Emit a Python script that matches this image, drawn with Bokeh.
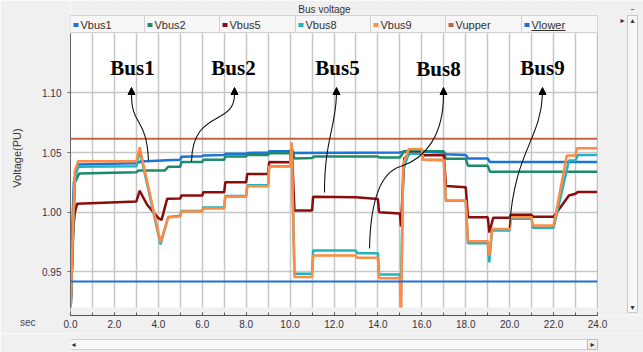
from bokeh.plotting import figure
from bokeh.layouts import column
from bokeh.models import (Range1d, FixedTicker, PrintfTickFormatter, LinearAxis,
                          Arrow, NormalHead)
from bokeh.core.properties import value
from bokeh.embed import file_html
from bokeh.resources import INLINE

# ------------------------------------------------------------------ data
# Bus voltage traces as (time [s], voltage [pu]) breakpoints
vbus1 = [(0.0, 0.915), (0.05, 0.97), (0.15, 1.025), (0.35, 1.040), (3.0, 1.041),
         (3.2, 1.0425), (4.4, 1.0435), (5.0, 1.044), (5.05, 1.0465), (6.0, 1.0468),
         (6.05, 1.0475), (7.0, 1.048), (7.05, 1.049), (8.0, 1.049), (8.05, 1.0497),
         (9.0, 1.0498), (9.05, 1.051), (10.0, 1.051), (10.2, 1.0497), (15.0, 1.050),
         (15.2, 1.051), (17.0, 1.050), (17.1, 1.0485), (18.0, 1.048), (18.1, 1.045),
         (19.0, 1.045), (19.1, 1.042), (24.0, 1.042)]

vbus2 = [(0.0, 0.915), (0.1, 0.97), (0.2, 1.025), (0.4, 1.0325), (3.0, 1.0335),
         (3.1, 1.035), (4.3, 1.035), (4.45, 1.038), (5.0, 1.038), (5.05, 1.042),
         (6.0, 1.042), (6.05, 1.044), (7.0, 1.044), (7.05, 1.0466), (8.0, 1.0466),
         (8.05, 1.048), (9.0, 1.048), (9.05, 1.0494), (10.0, 1.0494), (10.07, 1.054),
         (10.2, 1.045), (11.0, 1.0455), (11.1, 1.0466), (14.0, 1.0466), (14.1, 1.0458),
         (15.0, 1.0458), (15.2, 1.051), (17.0, 1.051), (17.1, 1.0447), (18.0, 1.0447),
         (18.1, 1.039), (19.0, 1.039), (19.1, 1.034), (24.0, 1.034)]

vbus5 = [(0.0, 0.915), (0.12, 0.985), (0.2, 1.0), (0.3, 1.007), (3.0, 1.009),
         (3.15, 1.018), (3.5, 1.006), (4.0, 0.995), (4.15, 0.9936), (4.4, 1.0112),
         (5.0, 1.0115), (5.05, 1.014), (6.0, 1.014), (6.05, 1.0168), (7.0, 1.0168),
         (7.05, 1.025), (8.0, 1.025), (8.05, 1.032), (9.0, 1.032), (9.05, 1.042),
         (10.0, 1.0419), (10.07, 1.057), (10.2, 1.0014), (11.0, 1.0014), (11.05, 1.013),
         (13.0, 1.0125), (14.0, 1.011), (14.05, 1.000), (15.0, 0.999), (15.05, 0.988),
         (15.2, 1.045), (15.5, 1.050), (16.0, 1.050), (16.05, 1.0477), (17.0, 1.0477),
         (17.1, 1.022), (18.0, 1.021), (18.1, 0.9958), (19.0, 0.9958), (19.08, 0.983),
         (19.25, 0.9953), (20.0, 0.9953), (20.05, 0.9978), (21.0, 0.9978), (21.05, 0.9962),
         (22.0, 0.9962), (22.7, 1.014), (23.0, 1.0155), (23.1, 1.017), (24.0, 1.017)]

vbus8 = [(0.0, 0.915), (0.1, 0.975), (0.2, 1.03), (0.35, 1.038), (3.0, 1.0385),
         (3.15, 1.0517), (4.1, 0.973), (4.45, 0.996), (5.0, 0.997), (5.05, 1.001),
         (6.0, 1.001), (6.05, 1.004), (7.0, 1.004), (7.05, 1.0135), (8.0, 1.0135),
         (8.05, 1.0225), (9.0, 1.0225), (9.05, 1.0385), (10.0, 1.0385), (10.07, 1.058),
         (10.2, 0.9484), (11.0, 0.9484), (11.05, 0.968), (13.0, 0.968), (13.05, 0.9657),
         (14.0, 0.9657), (14.05, 0.9478), (15.0, 0.9478), (15.05, 0.93), (15.15, 1.035),
         (15.4, 1.049), (16.0, 1.049), (16.05, 1.044), (17.0, 1.0435), (17.1, 1.0095),
         (18.0, 1.0095), (18.1, 0.974), (19.0, 0.974), (19.07, 0.958), (19.2, 0.9847),
         (20.0, 0.9847), (20.05, 0.9946), (21.0, 0.9946), (21.05, 0.9869), (22.0, 0.9869),
         (22.7, 1.0433), (23.0, 1.0433), (23.1, 1.048), (24.0, 1.048)]

vbus9 = [(0.0, 0.915), (0.1, 0.98), (0.2, 1.035), (0.35, 1.0427), (3.0, 1.0427),
         (3.15, 1.0545), (4.1, 0.9749), (4.45, 0.9955), (5.0, 0.9965), (5.05, 1.0005),
         (6.0, 1.0005), (6.05, 1.003), (7.0, 1.003), (7.05, 1.013), (8.0, 1.013),
         (8.05, 1.0218), (9.0, 1.0218), (9.05, 1.0383), (10.0, 1.0383), (10.07, 1.0586),
         (10.2, 0.9456), (11.0, 0.9456), (11.05, 0.9637), (13.0, 0.9637), (13.05, 0.9618),
         (14.0, 0.9618), (14.05, 0.9447), (15.0, 0.9447), (15.05, 0.905), (15.15, 1.04),
         (15.4, 1.053), (16.0, 1.053), (16.05, 1.044), (17.0, 1.044), (17.1, 1.0098),
         (18.0, 1.0098), (18.1, 0.9757), (19.0, 0.9757), (19.07, 0.9637), (19.2, 0.986),
         (20.0, 0.986), (20.05, 0.9958), (21.0, 0.9958), (21.05, 0.9889), (22.0, 0.9889),
         (22.6, 1.0475), (23.0, 1.0475), (23.05, 1.0535), (24.0, 1.0535)]

v_upper = 1.0615
v_lower = 0.942
t_span = [0.0, 24.0]

series_names = ["Vbus1", "Vbus2", "Vbus5", "Vbus8", "Vbus9", "Vupper", "Vlower"]
series_colors = ["#1b74d8", "#1d8b6b", "#8c0c0c", "#24b3bc", "#ff8b45",
                 "#c2643f", "#1d6fd8"]

x_ticks = [0, 2, 4, 6, 8, 10, 12, 14, 16, 18, 20, 22, 24]
x_minor = list(range(0, 25))
y_ticks = [0.95, 1.00, 1.05, 1.10]

callout_names = ["Bus1", "Bus2", "Bus5", "Bus8", "Bus9"]

# ------------------------------------------------------------------ canvas geometry
W, H = 643, 352
FOOT_H = 19                        # strip holding the horizontal scroll bar
PX_T0, PX_T24 = 70, 597            # canvas x of t = 0 s and t = 24 s
PY_ONE, PX_PER_PU = 211.7, 1193.3  # canvas y of 1.00 pu, pixels per pu
PX_PER_S = (PX_T24 - PX_T0) / 24.0
PLOT_TOP, PLOT_BOTTOM, AXIS_Y = 33, 307, 315
BG = "#f0f0f0"
SANS = value("Liberation Sans")


def t_at(px):
    return (px - PX_T0) / PX_PER_S


def v_at(py):
    return 1.0 + (PY_ONE - py) / PX_PER_PU


def ts(pxs):
    return [t_at(x) for x in pxs]


def vs(pys):
    return [v_at(y) for y in pys]


p = figure(width=W, height=H - FOOT_H,
           x_range=Range1d(t_at(PX_T0), t_at(W)),
           y_range=Range1d(v_at(AXIS_Y), v_at(0)),
           output_backend="svg", toolbar_location=None,
           min_border_left=PX_T0, min_border_right=0,
           min_border_top=0, min_border_bottom=H - FOOT_H - AXIS_Y)
p.background_fill_color = "white"
p.border_fill_color = BG
p.outline_line_color = None

# grid
p.xgrid.ticker = FixedTicker(ticks=x_minor)
p.ygrid.ticker = FixedTicker(ticks=y_ticks)
for g in (p.xgrid, p.ygrid):
    g.grid_line_color = "#c6c6c6"
    g.grid_line_width = 1.5

# time axis
ax = p.xaxis[0]
ax.ticker = FixedTicker(ticks=x_ticks, minor_ticks=x_minor)
ax.formatter = PrintfTickFormatter(format="%.1f")
ax.bounds = (t_span[0], t_span[1])
ax.major_tick_in, ax.major_tick_out = 3, 0
ax.minor_tick_in, ax.minor_tick_out = 3, 0
ax.axis_line_color = "#555555"
ax.major_tick_line_color = "#555555"
ax.minor_tick_line_color = "#555555"
ax.major_label_standoff = 4
ax.major_label_text_font = "Liberation Sans"
ax.major_label_text_font_size = "10px"
ax.major_label_text_color = "#34344a"

# voltage axis (numbers next to the frame)
ay = p.yaxis[0]
ay.ticker = FixedTicker(ticks=y_ticks)
ay.formatter = PrintfTickFormatter(format="%.2f")
ay.bounds = (v_at(PLOT_BOTTOM), v_at(PLOT_TOP))
ay.major_tick_in, ay.major_tick_out = 0, 3
ay.minor_tick_in, ay.minor_tick_out = 0, 0
ay.axis_line_color = "#666666"
ay.major_tick_line_color = "#666666"
ay.major_label_standoff = 6
ay.major_label_text_font = "Liberation Sans"
ay.major_label_text_font_size = "10px"
ay.major_label_text_color = "#34344a"

# outer left axis: carries the "Voltage(PU)" title and the "sec" unit caption
# (the caption sits one text line below the frame's bottom edge)
p.extra_y_ranges = {"caption": Range1d(0, 1)}
cap_mid = (AXIS_Y - 173.0) / AXIS_Y
cap_axis = LinearAxis(y_range_name="caption", ticker=FixedTicker(ticks=[0]),
                      major_label_overrides={0: "\nsec"}, bounds=(0, 2 * cap_mid))
cap_axis.axis_line_color = None
cap_axis.major_tick_line_color = None
cap_axis.minor_tick_line_color = None
cap_axis.major_tick_in, cap_axis.major_tick_out = 0, 0
cap_axis.major_label_standoff = 4
cap_axis.major_label_text_font = "Liberation Sans"
cap_axis.major_label_text_font_size = "10px"
cap_axis.major_label_text_color = "#444455"
cap_axis.axis_label = "Voltage(PU)"
cap_axis.axis_label_text_font = "Liberation Sans"
cap_axis.axis_label_text_font_size = "11px"
cap_axis.axis_label_text_font_style = "normal"
cap_axis.axis_label_text_color = "#333333"
cap_axis.axis_label_standoff = -6
p.add_layout(cap_axis, "left")

# voltage traces
for pts, color in zip([vbus1, vbus2, vbus5, vbus8, vbus9], series_colors[:5]):
    t, v = zip(*pts)
    p.line(list(t), list(v), line_color=color, line_width=2.5)
p.line(t_span, [v_upper, v_upper], line_color=series_colors[5], line_width=2)
p.line(t_span, [v_lower, v_lower], line_color=series_colors[6], line_width=2)

# panel background around the plotting area
p.quad(left=ts([PX_T0]), right=ts([W]), bottom=vs([PLOT_TOP]), top=vs([0]),
       fill_color=BG, line_color=None)
p.quad(left=ts([PX_T24]), right=ts([W]), bottom=vs([AXIS_Y]), top=vs([0]),
       fill_color=BG, line_color=None)
p.quad(left=ts([PX_T0]), right=ts([PX_T24]), bottom=vs([AXIS_Y]), top=vs([PLOT_BOTTOM]),
       fill_color=BG, line_color=None)
p.segment(x0=ts([PX_T24]), y0=vs([15]), x1=ts([PX_T24]), y1=vs([PLOT_BOTTOM]),
          line_color="#c0c0c0", line_width=1)

# title strip
p.text(x=ts([324]), y=vs([9]), text=["Bus voltage"], text_font=SANS,
       text_font_size="10px", text_align="center", text_baseline="alphabetic",
       text_color="#333333")

# legend strip
edges = [70, 144, 219, 295, 370, 445, 521, 597]
p.quad(left=ts(edges[:-1]), right=ts(edges[1:]), top=vs([15] * 7), bottom=vs([32] * 7),
       fill_color="#f6f6f6", line_color="#d2d2d2", line_width=1)
p.quad(left=ts([e + 3 for e in edges[:-1]]), right=ts([e + 8 for e in edges[:-1]]),
       top=vs([22.5] * 7), bottom=vs([26.5] * 7),
       fill_color=series_colors, line_color=None)
p.text(x=ts([e + 10 for e in edges[:-1]]), y=vs([24.5] * 7), text=series_names,
       text_font=SANS, text_font_size="11px", text_baseline="alphabetic",
       text_color="#303030")
p.segment(x0=ts([531]), y0=vs([30]), x1=ts([565]), y1=vs([30]),
          line_color="#303030", line_width=1)

# vertical scroll bar at the right
p.quad(left=ts([627]), right=ts([637]), top=vs([15]), bottom=vs([312]),
       fill_color="#f7f7f7", line_color="#c8c8c8", line_width=1)
p.text(x=ts([632, 632, 622, 632]), y=vs([20, 307, 20, 9]),
       text=["\u25b4", "\u25be", "\u25b8", "\u2013"], text_font=value("DejaVu Sans"),
       text_font_size="8px", text_align="center", text_baseline="middle",
       text_color="#333333")

# callouts naming each bus
callout_label = [(132, 67), (233, 67), (337, 67), (438, 68), (542, 67)]
callout_tip = [(131, 87), (234, 87), (336, 87), (443, 87), (542, 87)]
callout_curves = [
    [(131, 94), (131, 126), (146, 116), (148, 160)],
    [(234, 94), (234, 126), (192, 108), (191, 161)],
    [(336, 94), (335, 128), (324, 140), (324, 192)],
    [(443, 94), (443, 135), (425, 158), (400, 166)],
    [(400, 166), (380, 172), (370, 200), (369, 248)],
    [(542, 94), (540, 140), (514, 150), (509, 227)],
]
p.text(x=ts([c[0] for c in callout_label]), y=vs([c[1] for c in callout_label]),
       text=callout_names, text_font=value("Liberation Serif"), text_font_style="bold",
       text_font_size="21px", text_align="center", text_baseline="alphabetic",
       text_color="black")
p.bezier(x0=ts([c[0][0] for c in callout_curves]), y0=vs([c[0][1] for c in callout_curves]),
         cx0=ts([c[1][0] for c in callout_curves]), cy0=vs([c[1][1] for c in callout_curves]),
         cx1=ts([c[2][0] for c in callout_curves]), cy1=vs([c[2][1] for c in callout_curves]),
         x1=ts([c[3][0] for c in callout_curves]), y1=vs([c[3][1] for c in callout_curves]),
         line_color="#111111", line_width=1.1)
for (xt, yt) in callout_tip:
    p.add_layout(Arrow(end=NormalHead(size=7, fill_color="black", line_color="black",
                                      line_width=1),
                       x_start=t_at(xt), y_start=v_at(yt + 7), x_end=t_at(xt), y_end=v_at(yt),
                       line_color="black", line_width=1.1))

# footer strip with the horizontal scroll bar (pixel coordinates, y downwards);
# its frame lines up with the main frame, starting at x = PX_T0
foot = figure(width=W, height=FOOT_H, x_range=Range1d(PX_T0, W),
              y_range=Range1d(H, H - FOOT_H), output_backend="svg",
              toolbar_location=None, x_axis_type=None, y_axis_type=None,
              min_border_left=PX_T0, min_border_right=0,
              min_border_top=0, min_border_bottom=0)
foot.background_fill_color = BG
foot.border_fill_color = BG
foot.outline_line_color = None
foot.grid.visible = False
foot.quad(left=[PX_T0 - 1], right=[597], top=[339], bottom=[349],
          fill_color="#f8f8f8", line_color="#cfcfcf", line_width=1)
foot.quad(left=[587], right=[597], top=[339], bottom=[349],
          fill_color="#eeeeee", line_color="#bdbdbd", line_width=1)
foot.text(x=[73, 592], y=[344, 344], text=["\u25c2", "\u25b8"],
          text_font=value("DejaVu Sans"), text_font_size="8px", text_align="center",
          text_baseline="middle", text_color="#333333")

layout = column(p, foot, spacing=0)
open("out.html", "w").write(file_html(layout, INLINE))
